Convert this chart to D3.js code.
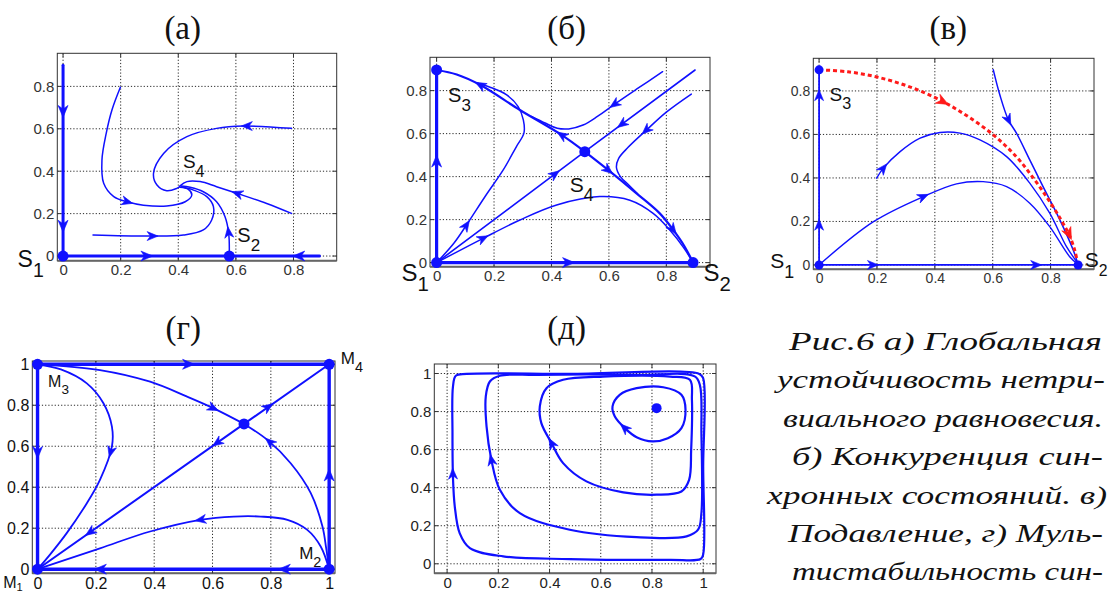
<!DOCTYPE html>
<html>
<head>
<meta charset="utf-8">
<script src="https://cdn.jsdelivr.net/npm/d3@7"></script>
<style>
  body { margin: 0; background: #fff; }
  svg text { font-family: "Liberation Sans", Arial, sans-serif; }
</style>
</head>
<body>
<svg id="fig" width="1110" height="595"></svg>
<script>
// ---------- tick values ----------
const ticksTo08 = [0, 0.2, 0.4, 0.6, 0.8];
const ticksTo1 = [0, 0.2, 0.4, 0.6, 0.8, 1];

// ---------- (а) global stability of the nontrivial equilibrium ----------
const aAxisY = [[0, 0.9], [0, 0]];
const aAxisYArrows = [[0, 0.68], [0, 0.14]];
const aAxisToS2 = [[0, 0], [0.577, 0]];
const aAxisToS2Arrows = [[0.29, 0]];
const aAxisFromRight = [[0.89, 0], [0.577, 0]];
const aAxisFromRightArrows = [[0.82, 0]];
const aFromTop = [[0.199, 0.796], [0.17, 0.69], [0.15, 0.58], [0.135, 0.453], [0.141, 0.343], [0.176, 0.28], [0.222, 0.256], [0.279, 0.24], [0.36, 0.236], [0.424, 0.256], [0.447, 0.288], [0.435, 0.314], [0.406, 0.324]];
const aFromTopArrows = [[0.222, 0.256]];
const aFromUpperRight = [[0.793, 0.602], [0.626, 0.613], [0.533, 0.602], [0.43, 0.563], [0.349, 0.484], [0.314, 0.39], [0.326, 0.335], [0.36, 0.308], [0.395, 0.319], [0.405, 0.327]];
const aFromUpperRightArrows = [[0.64, 0.612]];
const aFromLowerRight = [[0.793, 0.201], [0.707, 0.248], [0.603, 0.296], [0.533, 0.327], [0.476, 0.351], [0.43, 0.351], [0.405, 0.33]];
const aFromLowerRightArrows = [[0.603, 0.296]];
const aFromLeft = [[0.104, 0.099], [0.302, 0.094], [0.418, 0.099], [0.487, 0.123], [0.516, 0.17], [0.522, 0.233], [0.499, 0.28], [0.453, 0.311], [0.412, 0.327]];
const aFromLeftArrows = [[0.31, 0.094]];
const aFromS2 = [[0.577, 0], [0.575, 0.107], [0.562, 0.186], [0.533, 0.256], [0.487, 0.303], [0.441, 0.324], [0.41, 0.33]];
const aFromS2Arrows = [[0.575, 0.11]];
const aPoints = [[0, 0], [0.577, 0]];

// ---------- (б) competition of synchronous states ----------
const bAxisY = [[0, 0], [0, 0.896]];
const bAxisYArrows = [[0, 0.47]];
const bAxisX = [[0, 0], [0.893, 0]];
const bAxisXArrows = [[0.46, 0]];
const bSepToS3 = [[0.516, 0.516], [0.435, 0.594], [0.29, 0.71], [0.151, 0.827], [0.07, 0.875], [0, 0.896]];
const bSepToS3Arrows = [[0.435, 0.594], [0.151, 0.827]];
const bSepToS2 = [[0.516, 0.516], [0.597, 0.431], [0.696, 0.322], [0.777, 0.229], [0.824, 0.152], [0.864, 0.074], [0.893, 0]];
const bSepToS2Arrows = [[0.597, 0.431], [0.824, 0.152]];
const bDiagFromS1 = [[0, 0], [0.516, 0.516]];
const bDiagFromS1Arrows = [[0.412, 0.412]];
const bDiagFromTop = [[0.9, 0.896], [0.516, 0.516]];
const bDiagFromTopArrows = [[0.644, 0.644]];
const bUpper = [[0.787, 0.888], [0.70, 0.81], [0.621, 0.738], [0.56, 0.68], [0.51, 0.64], [0.46, 0.622], [0.42, 0.625], [0.38, 0.648], [0.33, 0.68]];
const bUpperArrows = [[0.621, 0.73]];
const bRight = [[0.887, 0.784], [0.80, 0.70], [0.731, 0.617], [0.666, 0.535], [0.634, 0.485], [0.626, 0.445], [0.64, 0.40], [0.67, 0.36], [0.70, 0.32]];
const bRightArrows = [[0.731, 0.617]];
const bLeft = [[0, 0], [0.06, 0.09], [0.104, 0.175], [0.17, 0.31], [0.232, 0.431], [0.278, 0.54], [0.304, 0.602], [0.302, 0.664], [0.284, 0.726], [0.244, 0.78], [0.186, 0.816], [0.14, 0.835]];
const bLeftArrows = [[0.104, 0.175]];
const bLower = [[0, 0], [0.162, 0.113], [0.29, 0.198], [0.418, 0.268], [0.568, 0.307], [0.673, 0.29], [0.754, 0.229], [0.812, 0.152], [0.86, 0.07], [0.893, 0]];
const bLowerArrows = [[0.162, 0.113]];
const bPoints = [[0, 0], [0.893, 0], [0, 0.896], [0.516, 0.516]];

// ---------- (в) suppression ----------
const vAxisY = [[0, 0], [0, 0.897]];
const vAxisYArrows = [[0, 0.184], [0, 0.782]];
const vAxisX = [[0, 0], [0.895, 0]];
const vAxisXArrows = [[0.188, 0], [0.751, 0]];
const vRed = [[0, 0.897], [0.1, 0.888], [0.2, 0.864], [0.3, 0.825], [0.4, 0.77], [0.5, 0.695], [0.6, 0.6], [0.68, 0.5], [0.74, 0.4], [0.79, 0.305], [0.835, 0.21], [0.867, 0.13], [0.885, 0.06], [0.893, 0.01]];
const vRedArrows = [[0.429, 0.752], [0.867, 0.146]];
const vFromTop = [[0.602, 0.897], [0.625, 0.78], [0.654, 0.667], [0.682, 0.606], [0.728, 0.483], [0.774, 0.36], [0.832, 0.207], [0.878, 0.069], [0.893, 0.01]];
const vFromTopArrows = [[0.654, 0.667]];
const vArcUpper = [[0.199, 0.399], [0.222, 0.445], [0.28, 0.521], [0.349, 0.583], [0.418, 0.609], [0.487, 0.606], [0.556, 0.575], [0.648, 0.498], [0.728, 0.376], [0.797, 0.238], [0.855, 0.084], [0.893, 0.01]];
const vArcUpperArrows = [[0.222, 0.445]];
const vArcLower = [[0, 0], [0.188, 0.199], [0.36, 0.314], [0.475, 0.373], [0.567, 0.383], [0.648, 0.36], [0.728, 0.284], [0.797, 0.176], [0.866, 0.038], [0.893, 0.005]];
const vArcLowerArrows = [[0.36, 0.314]];
const vPoints = [[0, 0], [0.895, 0], [0, 0.897]];

// ---------- (г) multistability ----------
const gTop = [[0, 1], [1, 1]];
const gTopArrows = [[0.518, 1]];
const gLeft = [[0, 1], [0, 0]];
const gLeftArrows = [[0, 0.566]];
const gBottom = [[1, 0], [0, 0]];
const gBottomArrows = [[0.845, 0], [0.214, 0]];
const gRight = [[1, 0], [1, 1]];
const gRightArrows = [[1, 0.46]];
const gDiagUp = [[0.708, 0.709], [1, 1]];
const gDiagUpArrows = [[0.79, 0.79]];
const gDiagDown = [[0.708, 0.709], [0, 0]];
const gDiagDownArrows = [[0.616, 0.617], [0.18, 0.18]];
const gM3Loop = [[0, 1], [0.08, 0.975], [0.169, 0.907], [0.226, 0.81], [0.255, 0.696], [0.255, 0.598], [0.214, 0.436], [0.169, 0.322], [0.1, 0.176], [0.042, 0.07], [0, 0]];
const gM3LoopArrows = [[0.245, 0.574]];
const gM3Center = [[0, 1], [0.214, 0.972], [0.386, 0.915], [0.513, 0.842], [0.604, 0.785], [0.708, 0.709]];
const gM3CenterArrows = [[0.604, 0.785]];
const gM2Center = [[1, 0], [0.99, 0.1], [0.977, 0.208], [0.937, 0.371], [0.868, 0.517], [0.788, 0.631], [0.708, 0.709]];
const gM2CenterArrows = [[0.795, 0.62]];
const gM2Arc = [[1, 0], [0.971, 0.111], [0.925, 0.192], [0.857, 0.241], [0.765, 0.257], [0.673, 0.257], [0.558, 0.241], [0.386, 0.184], [0.214, 0.102], [0, 0]];
const gM2ArcArrows = [[0.558, 0.241]];
const gPoints = [[0, 0], [1, 0], [0, 1], [1, 1], [0.708, 0.709]];

// ---------- (д) nested cycles ----------
const dLoop1 = [[0.049, 0.161], [0.03, 0.301], [0.023, 0.45], [0.021, 0.687], [0.023, 0.932], [0.034, 0.988], [0.076, 0.998], [0.479, 0.998], [0.985, 0.998], [1, 0.975], [1, 0.511], [1, 0.05], [0.99, 0.025], [0.87, 0.021], [0.479, 0.025], [0.219, 0.039], [0.089, 0.082]];
const dLoop1Arrows = [[0.023, 0.47]];
const dLoop2 = [[0.206, 0.389], [0.173, 0.546], [0.154, 0.722], [0.151, 0.879], [0.167, 0.958], [0.206, 0.988], [0.349, 0.993], [0.74, 0.993], [0.967, 0.985], [0.987, 0.94], [0.993, 0.687], [0.993, 0.266], [0.98, 0.179], [0.935, 0.144], [0.74, 0.14], [0.479, 0.179], [0.284, 0.266]];
const dLoop2Arrows = [[0.173, 0.546]];
const dLoop3 = [[0.453, 0.529], [0.408, 0.634], [0.368, 0.739], [0.362, 0.827], [0.388, 0.923], [0.453, 0.967], [0.609, 0.984], [0.87, 0.984], [0.948, 0.967], [0.956, 0.862], [0.953, 0.599], [0.945, 0.441], [0.915, 0.38], [0.818, 0.363], [0.688, 0.375], [0.544, 0.433]];
const dLoop3Arrows = [[0.408, 0.634]];
const dLoop4 = [[0.694, 0.713], [0.655, 0.774], [0.646, 0.827], [0.674, 0.888], [0.74, 0.923], [0.844, 0.928], [0.915, 0.888], [0.931, 0.809], [0.915, 0.713], [0.862, 0.66], [0.802, 0.643], [0.74, 0.665]];
const dLoop4Arrows = [[0.694, 0.713]];
const dPoints = [[0.818, 0.818]];

// ---------- caption ----------
const captionLines = [
  "Рис.6 а) Глобальная",
  "устойчивость нетри-",
  "виального равновесия.",
  "б) Конкуренция син-",
  "хронных состояний. в)",
  "Подавление, г) Муль-",
  "тистабильность син-"
];
// left edge and set width of each caption line, px
const captionBox = [
  { x: 789, w: 313 }, { x: 777, w: 328 }, { x: 783, w: 320 }, { x: 792, w: 311 },
  { x: 767, w: 340 }, { x: 788, w: 315 }, { x: 792, w: 311 }
];

// ---------- panel layout ----------
const BLUE = "#1010ff";
const RED = "#ff1a1a";

const panels = [
  {
    title: "(а)", titleX: 182.7, titleY: 39,
    frame: { left: 57.3, top: 53.3, right: 336.7, bottom: 260.7 },
    xDomain: [-0.02, 0.95], yDomain: [-0.022, 0.956],
    xTicks: ticksTo08, yTicks: ticksTo08, tickSize: 15, tickColor: "#333",
    curves: [
      { pts: aAxisY, arrows: aAxisYArrows, w: 3 },
      { pts: aAxisToS2, arrows: aAxisToS2Arrows, w: 3 },
      { pts: aAxisFromRight, arrows: aAxisFromRightArrows, w: 3 },
      { pts: aFromTop, arrows: aFromTopArrows, w: 1.5 },
      { pts: aFromUpperRight, arrows: aFromUpperRightArrows, w: 1.5 },
      { pts: aFromLowerRight, arrows: aFromLowerRightArrows, w: 1.5 },
      { pts: aFromLeft, arrows: aFromLeftArrows, w: 1.5 },
      { pts: aFromS2, arrows: aFromS2Arrows, w: 1.5 }
    ],
    dots: aPoints, dotR: 5.5,
    labels: [
      { at: [-0.158, -0.052], main: "S", sub: "1", size: 23 },
      { at: [0.416, 0.414], main: "S", sub: "4", size: 19 },
      { at: [0.605, 0.067], main: "S", sub: "2", size: 20 }
    ]
  },
  {
    title: "(б)", titleX: 566.7, titleY: 39,
    frame: { left: 430, top: 57.3, right: 710, bottom: 266.7 },
    xDomain: [-0.023, 0.952], yDomain: [-0.019, 0.955],
    xTicks: ticksTo08, yTicks: ticksTo08, tickSize: 15, tickColor: "#333",
    curves: [
      { pts: bAxisY, arrows: bAxisYArrows, w: 3.2 },
      { pts: bAxisX, arrows: bAxisXArrows, w: 3.2 },
      { pts: bSepToS3, arrows: bSepToS3Arrows, w: 2.2 },
      { pts: bSepToS2, arrows: bSepToS2Arrows, w: 2.2 },
      { pts: bDiagFromS1, arrows: bDiagFromS1Arrows, w: 1.6 },
      { pts: bDiagFromTop, arrows: bDiagFromTopArrows, w: 1.6 },
      { pts: bUpper, arrows: bUpperArrows, w: 1.5 },
      { pts: bRight, arrows: bRightArrows, w: 1.5 },
      { pts: bLeft, arrows: bLeftArrows, w: 1.5 },
      { pts: bLower, arrows: bLowerArrows, w: 1.5 }
    ],
    dots: bPoints, dotR: 5.5,
    labels: [
      { at: [0.04, 0.747], main: "S", sub: "3", size: 20 },
      { at: [0.464, 0.33], main: "S", sub: "4", size: 21 },
      { at: [-0.122, -0.084], main: "S", sub: "1", size: 24 },
      { at: [0.929, -0.084], main: "S", sub: "2", size: 24 }
    ]
  },
  {
    title: "(в)", titleX: 948.3, titleY: 39,
    frame: { left: 813.3, top: 58.3, right: 1094, bottom: 269.3 },
    xDomain: [-0.02, 0.95], yDomain: [-0.02, 0.95],
    xTicks: ticksTo08, yTicks: ticksTo08, tickSize: 14, tickColor: "#333",
    curves: [
      { pts: vAxisY, arrows: vAxisYArrows, w: 1.8 },
      { pts: vAxisX, arrows: vAxisXArrows, w: 1.8 },
      { pts: vFromTop, arrows: vFromTopArrows, w: 1.5 },
      { pts: vArcUpper, arrows: vArcUpperArrows, w: 1.4 },
      { pts: vArcLower, arrows: vArcLowerArrows, w: 1.4 },
      { pts: vRed, arrows: vRedArrows, w: 3, color: RED, dash: "4,3" }
    ],
    dots: vPoints, dotR: 4.5,
    labels: [
      { at: [0.036, 0.755], main: "S", sub: "3", size: 19 },
      { at: [-0.169, -0.015], main: "S", sub: "1", size: 21 },
      { at: [0.918, -0.008], main: "S", sub: "2", size: 21, subScale: 0.75 }
    ]
  },
  {
    title: "(г)", titleX: 183.3, titleY: 339,
    frame: { left: 32.3, top: 361, right: 335, bottom: 573.3 },
    xDomain: [-0.018, 1.02], yDomain: [-0.02, 1.016],
    xTicks: ticksTo1, yTicks: ticksTo1, tickSize: 16, tickColor: "#111",
    curves: [
      { pts: gTop, arrows: gTopArrows, w: 3.4 },
      { pts: gLeft, arrows: gLeftArrows, w: 3.4 },
      { pts: gBottom, arrows: gBottomArrows, w: 3.4 },
      { pts: gRight, arrows: gRightArrows, w: 3.4 },
      { pts: gDiagUp, arrows: gDiagUpArrows, w: 2 },
      { pts: gDiagDown, arrows: gDiagDownArrows, w: 2 },
      { pts: gM3Loop, arrows: gM3LoopArrows, w: 1.8 },
      { pts: gM3Center, arrows: gM3CenterArrows, w: 1.8 },
      { pts: gM2Center, arrows: gM2CenterArrows, w: 1.8 },
      { pts: gM2Arc, arrows: gM2ArcArrows, w: 1.8 }
    ],
    dots: gPoints, dotR: 5.5,
    labels: [
      { at: [0.036, 0.888], main: "M", sub: "3", size: 16 },
      { at: [1.04, 1.0], main: "M", sub: "4", size: 17 },
      { at: [0.897, 0.049], main: "M", sub: "2", size: 17 },
      { at: [-0.118, -0.092], main: "M", sub: "1", size: 16, subScale: 0.7, subDrop: 0.2 }
    ]
  },
  {
    title: "(д)", titleX: 566.7, titleY: 339,
    frame: { left: 434.3, top: 364, right: 716, bottom: 573.3 },
    xDomain: [-0.05, 1.05], yDomain: [-0.05, 1.05],
    xTicks: ticksTo1, yTicks: ticksTo1, tickSize: 15, tickColor: "#222",
    curves: [
      { pts: dLoop1, arrows: dLoop1Arrows, w: 2.2, closed: true },
      { pts: dLoop2, arrows: dLoop2Arrows, w: 2.2, closed: true },
      { pts: dLoop3, arrows: dLoop3Arrows, w: 2.2, closed: true },
      { pts: dLoop4, arrows: dLoop4Arrows, w: 2.2, closed: true }
    ],
    dots: dPoints, dotR: 5,
    labels: []
  }
];

const svg = d3.select("#fig");
const serif = '"Liberation Serif", "Times New Roman", Times, serif';

// Barbed arrowhead centred on the origin, pointing along +x
function arrowPath(len, half) {
  return `M${len * 0.5},0 L${-len * 0.5},${-half} L${-len * 0.2},0 L${-len * 0.5},${half} Z`;
}

function drawPanel(p) {
  const g = svg.append("g");
  const f = p.frame;
  const x = d3.scaleLinear().domain(p.xDomain).range([f.left, f.right]);
  const y = d3.scaleLinear().domain(p.yDomain).range([f.bottom, f.top]);

  // title
  svg.append("text")
    .attr("x", p.titleX).attr("y", p.titleY)
    .attr("text-anchor", "middle")
    .attr("font-family", serif)
    .style("font-family", serif)
    .style("font-size", "33px").style("fill", "#111")
    .text(p.title);

  // dotted grid
  const grid = g.append("g").attr("stroke", "#111").attr("stroke-width", 0.9)
    .attr("stroke-dasharray", "1.2,2").attr("fill", "none");
  p.xTicks.forEach(t => grid.append("line")
    .attr("x1", x(t)).attr("x2", x(t)).attr("y1", f.top).attr("y2", f.bottom));
  p.yTicks.forEach(t => grid.append("line")
    .attr("y1", y(t)).attr("y2", y(t)).attr("x1", f.left).attr("x2", f.right));

  // axes box with inward ticks
  g.append("rect").attr("x", f.left).attr("y", f.top)
    .attr("width", f.right - f.left).attr("height", f.bottom - f.top)
    .attr("fill", "none").attr("stroke", "#333").attr("stroke-width", 1);
  g.append("line").attr("x1", f.left).attr("x2", f.right).attr("y1", f.bottom).attr("y2", f.bottom)
    .attr("stroke", "#666").attr("stroke-width", 2);
  const tk = g.append("g").attr("stroke", "#333").attr("stroke-width", 1);
  p.xTicks.forEach(t => {
    tk.append("line").attr("x1", x(t)).attr("x2", x(t)).attr("y1", f.bottom).attr("y2", f.bottom - 4);
    tk.append("line").attr("x1", x(t)).attr("x2", x(t)).attr("y1", f.top).attr("y2", f.top + 4);
  });
  p.yTicks.forEach(t => {
    tk.append("line").attr("y1", y(t)).attr("y2", y(t)).attr("x1", f.left).attr("x2", f.left + 4);
    tk.append("line").attr("y1", y(t)).attr("y2", y(t)).attr("x1", f.right).attr("x2", f.right - 4);
  });

  // tick labels via d3 axes
  const fmt = d => (d === 0 || d === 1) ? String(d) : d3.format(".1f")(d);
  const xa = g.append("g").attr("transform", `translate(0,${f.bottom})`)
    .call(d3.axisBottom(x).tickValues(p.xTicks).tickFormat(fmt).tickSize(0).tickPadding(4));
  const ya = g.append("g").attr("transform", `translate(${f.left},0)`)
    .call(d3.axisLeft(y).tickValues(p.yTicks).tickFormat(fmt).tickSize(0).tickPadding(3));
  [xa, ya].forEach(a => {
    a.select(".domain").remove();
    a.selectAll("text").style("font-size", p.tickSize + "px").style("fill", p.tickColor)
      .style("font-family", '"Liberation Sans", Arial, sans-serif');
  });

  // trajectories
  p.curves.forEach(c => {
    const color = c.color || BLUE;
    const line = d3.line().x(d => x(d[0])).y(d => y(d[1]))
      .curve(c.closed ? d3.curveCatmullRomClosed.alpha(0.5) : d3.curveCatmullRom.alpha(0.5));
    const path = g.append("path").attr("d", line(c.pts))
      .attr("fill", "none").attr("stroke", color).attr("stroke-width", c.w)
      .attr("stroke-linejoin", "round").attr("stroke-linecap", c.dash ? "butt" : "round");
    if (c.dash) path.attr("stroke-dasharray", c.dash);
    const node = path.node();
    const L = node.getTotalLength();
    const n = Math.max(2, Math.ceil(L / 1.5));
    const samples = d3.range(n + 1).map(i => {
      const l = i * L / n, pt = node.getPointAtLength(l);
      return { l, x: pt.x, y: pt.y };
    });
    const len = c.w >= 3 ? 12 : 11, half = c.w >= 3 ? 5 : 4.5;
    (c.arrows || []).forEach(a => {
      const px = x(a[0]), py = y(a[1]);
      const best = d3.least(samples, s => (s.x - px) ** 2 + (s.y - py) ** 2);
      const p0 = node.getPointAtLength(Math.max(0, best.l - 2));
      const p1 = node.getPointAtLength(Math.min(L, best.l + 2));
      const ang = Math.atan2(p1.y - p0.y, p1.x - p0.x) * 180 / Math.PI;
      g.append("path").attr("d", arrowPath(len, half))
        .attr("transform", `translate(${best.x},${best.y}) rotate(${ang})`)
        .attr("fill", color).attr("stroke", color).attr("stroke-width", 0.6);
    });
  });

  // equilibrium points
  g.selectAll("circle.pt").data(p.dots).join("circle").attr("class", "pt")
    .attr("cx", d => x(d[0])).attr("cy", d => y(d[1])).attr("r", p.dotR).attr("fill", BLUE);

  // point names with subscripts
  p.labels.forEach(l => {
    const t = g.append("text").attr("x", x(l.at[0])).attr("y", y(l.at[1]))
      .style("font-size", l.size + "px").style("fill", "#111").text(l.main);
    t.append("tspan").attr("dy", l.size * (l.subDrop ?? 0.45))
      .style("font-size", (l.size * (l.subScale ?? 0.85)) + "px").text(l.sub);
  });
}

panels.forEach(drawPanel);

// caption block, each line set to its own width
captionLines.forEach((s, i) => {
  svg.append("text")
    .attr("x", captionBox[i].x).attr("y", 350 + i * 38.4)
    .attr("textLength", captionBox[i].w).attr("lengthAdjust", "spacingAndGlyphs")
    .attr("font-family", serif)
    .style("font-family", serif)
    .style("font-style", "italic").style("font-size", "26px").style("fill", "#111")
    .text(s);
});
</script>
</body>
</html>
